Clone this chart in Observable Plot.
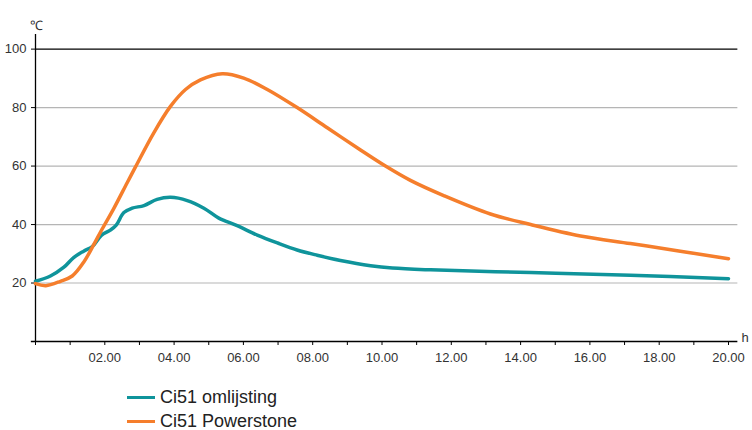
<!DOCTYPE html>
<html>
<head>
<meta charset="utf-8">
<script src="https://cdn.jsdelivr.net/npm/d3@7"></script>
<script src="https://cdn.jsdelivr.net/npm/@observablehq/plot@0.6"></script>
<style>
  body { margin: 0; background: #fff; font-family: "Liberation Sans", Arial, sans-serif; }
  #wrap { position: relative; width: 752px; height: 430px; }
  #legend { position: absolute; left: 127px; top: 385px; font-size: 18px; color: #222; }
  .row { display: flex; align-items: center; height: 24px; }
  .sw { width: 28px; height: 3px; margin-right: 5px; }
</style>
</head>
<body>
<div id="wrap">
  <div id="chart"></div>
  <div id="legend"></div>
</div>
<script>
const seriesNames = ["Ci51 omlijsting", "Ci51 Powerstone"];
const seriesColors = ["#0f949b", "#f57e2c"];

const tealHours = [0, 0.43, 0.82, 1.1, 1.39, 1.64, 1.9, 2.16, 2.33, 2.55, 2.79, 3.13, 3.51, 3.9, 4.38, 4.86, 5.29, 5.82, 6.4, 6.98, 7.55, 8.13, 8.8, 9.67, 10.3, 11.4, 14.29, 17.17, 20];
const tealTemps = [20.6, 22.4, 25.4, 28.7, 30.9, 32.5, 36.3, 38.1, 39.8, 44.1, 45.6, 46.5, 48.6, 49.3, 48.2, 45.6, 42.2, 39.6, 36.4, 33.7, 31.3, 29.5, 27.7, 25.9, 25.1, 24.5, 23.6, 22.7, 21.5];

const orangeHours = [0, 0.3, 0.72, 1.06, 1.39, 1.68, 1.92, 2.25, 2.65, 2.89, 3.41, 3.9, 4.33, 4.76, 5.39, 6.01, 6.69, 7.55, 8.42, 9.38, 10.1, 10.82, 11.78, 13.13, 14.29, 15.73, 17.17, 18.61, 20];
const orangeTemps = [19.8, 19.1, 20.6, 22.4, 27.1, 33.1, 38.4, 45.3, 54.4, 59.8, 71.3, 80.5, 86.2, 89.5, 91.6, 90.1, 86.2, 80, 73.1, 65.5, 60, 55.1, 49.9, 43.6, 40, 36.1, 33.5, 30.9, 28.3];

const yTicks = [20, 40, 60, 80, 100];
const xTicks = d3.range(0, 21);
const xLabel = h => (h > 0 && h % 2 === 0) ? String(h).padStart(2, "0") + ".00" : "";

const teal = tealHours.map((h, i) => ({h, t: tealTemps[i], s: seriesNames[0]}));
const orange = orangeHours.map((h, i) => ({h, t: orangeTemps[i], s: seriesNames[1]}));

const plot = Plot.plot({
  width: 752,
  height: 372,
  marginLeft: 35,
  marginRight: 24,
  marginTop: 34,
  marginBottom: 31,
  style: { fontFamily: "Liberation Sans, Arial, sans-serif", fontSize: "13px", color: "#333" },
  x: { domain: [0, 20] },
  y: { domain: [0, 105] },
  marks: [
    Plot.ruleY(yTicks.filter(d => d < 100), { x1: 0, x2: 20.27, stroke: "#b5b5b5", strokeWidth: 1.2 }),
    Plot.ruleY([100], { x1: 0, x2: 20.27, stroke: "#000", strokeWidth: 1.3 }),
    Plot.ruleY([0], { x1: -0.12, x2: 20.27, stroke: "#000", strokeWidth: 1.3 }),
    Plot.ruleX([0], { y1: 0, y2: 105, stroke: "#000", strokeWidth: 1.3 }),
    Plot.axisY({ ticks: yTicks, tickSize: 4, tickPadding: 5, label: null, fontSize: 13, stroke: "#000" }),
    Plot.axisX({ ticks: xTicks, tickSize: 4, tickPadding: 7, tickFormat: xLabel, label: null, fontSize: 13, stroke: "#000" }),
    Plot.text(["℃"], { frameAnchor: "top-left", dx: -6, dy: -14, textAnchor: "start", fontSize: 13, fill: "#333" }),
    Plot.text(["h"], { frameAnchor: "bottom-right", dx: 13, dy: 0, textAnchor: "start", fontSize: 13, fill: "#333" }),
    Plot.line(teal, { x: "h", y: "t", stroke: seriesColors[0], strokeWidth: 3.5, curve: "catmull-rom" }),
    Plot.line(orange, { x: "h", y: "t", stroke: seriesColors[1], strokeWidth: 3.5, curve: "catmull-rom" })
  ]
});
document.getElementById("chart").appendChild(plot);

const legend = document.getElementById("legend");
seriesNames.forEach((n, i) => {
  const row = document.createElement("div");
  row.className = "row";
  const sw = document.createElement("span");
  sw.className = "sw";
  sw.style.background = seriesColors[i];
  const tx = document.createElement("span");
  tx.textContent = n;
  row.appendChild(sw);
  row.appendChild(tx);
  legend.appendChild(row);
});
</script>
</body>
</html>
